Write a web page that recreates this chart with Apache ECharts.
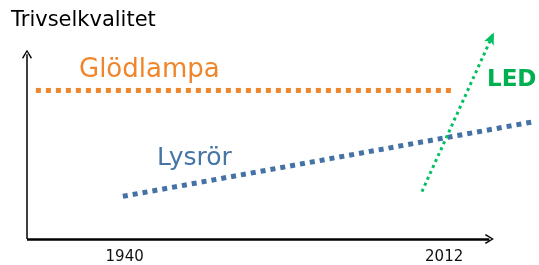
<!DOCTYPE html>
<html>
<head>
<meta charset="utf-8">
<script src="https://cdn.jsdelivr.net/npm/echarts@6/dist/echarts.min.js"></script>
<style>
  html, body { margin: 0; padding: 0; background: #fff; }
  #main { width: 539px; height: 265px; }
</style>
</head>
<body>
<div id="main"></div>
<script>
// data
var yearTicks = [1940, 2012];
var glodlampa = [[1920, 80.4], [2014.5, 80.4]];
var lysror = [[1939.6, 23.1], [2031.8, 63.3]];
var led = [[2007.0, 25.7], [2023.2, 111.7]];
// axis arrows (year / quality units)
var xAxisEnds = [[1918, 0], [2022.2, 0]];
var yAxisEnds = [[1918, 0], [1918, 100]];

var FONT = 'DejaVu Sans';
var chevron = 'path://M5,0 L10,9 L8.8,10 L5,2.6 L1.2,10 L0,9 Z';

var myChart = echarts.init(document.getElementById('main'));
var option = {
    animation: false,
    grid: {
        left: 27,
        right: 3.9,
        top: 24.66,
        bottom: 24
    },
    xAxis: {
        type: 'value',
        min: 1918,
        max: 2032.5,
        splitLine: { show: false },
        axisTick: { show: false },
        axisLine: { show: false },
        axisLabel: {
            customValues: yearTicks,
            formatter: function (v) { return String(v); },
            margin: 11,
            color: '#111',
            fontFamily: FONT,
            fontSize: 15
        }
    },
    yAxis: {
        type: 'value',
        min: 0,
        max: 116,
        splitLine: { show: false },
        axisTick: { show: false },
        axisLabel: { show: false },
        axisLine: { show: false }
    },
    graphic: [
        { type: 'text', x: 11, y: 21, style: { text: 'Trivselkvalitet', font: '21px "DejaVu Sans"', fill: '#000', verticalAlign: 'middle' } },
        { type: 'text', x: 79, y: 70.5, style: { text: 'Glödlampa', font: '26px "DejaVu Sans"', fill: '#F0862C', verticalAlign: 'middle' } },
        { type: 'text', x: 157, y: 158, style: { text: 'Lysrör', font: '25px "DejaVu Sans"', fill: '#4775A6', verticalAlign: 'middle' } },
        { type: 'text', x: 487, y: 80.5, style: { text: 'LED', font: 'bold 23px "DejaVu Sans"', fill: '#00B050', verticalAlign: 'middle' } }
    ],
    series: [
        {
            name: 'axes',
            type: 'line',
            data: [],
            markLine: {
                silent: true,
                animation: false,
                symbol: ['none', chevron],
                symbolSize: [10, 9],
                label: { show: false },
                data: [
                    [{ coord: xAxisEnds[0], lineStyle: { color: '#000', width: 2.5, type: 'solid' } }, { coord: xAxisEnds[1] }],
                    [{ coord: yAxisEnds[0], lineStyle: { color: '#000', width: 1.5, type: 'solid' } }, { coord: yAxisEnds[1] }]
                ]
            }
        },
        {
            name: 'Glödlampa',
            type: 'line',
            data: glodlampa,
            symbol: 'none',
            lineStyle: { color: '#F0862C', width: 5, type: [5, 5], cap: 'butt' }
        },
        {
            name: 'Lysrör',
            type: 'line',
            data: lysror,
            symbol: 'none',
            lineStyle: { color: '#4472A4', width: 5, type: [5, 5], cap: 'butt' }
        },
        {
            name: 'LED',
            type: 'line',
            data: [],
            markLine: {
                silent: true,
                animation: false,
                symbol: ['none', 'arrow'],
                symbolSize: [8, 12],
                label: { show: false },
                itemStyle: { color: '#00C060' },
                lineStyle: { color: '#00C060', width: 3, type: [3, 3.5], cap: 'butt' },
                data: [
                    [{ coord: led[0] }, { coord: led[1] }]
                ]
            }
        }
    ]
};
if (option && typeof option === "object") {
    myChart.setOption(option, true);
}
</script>
</body>
</html>
